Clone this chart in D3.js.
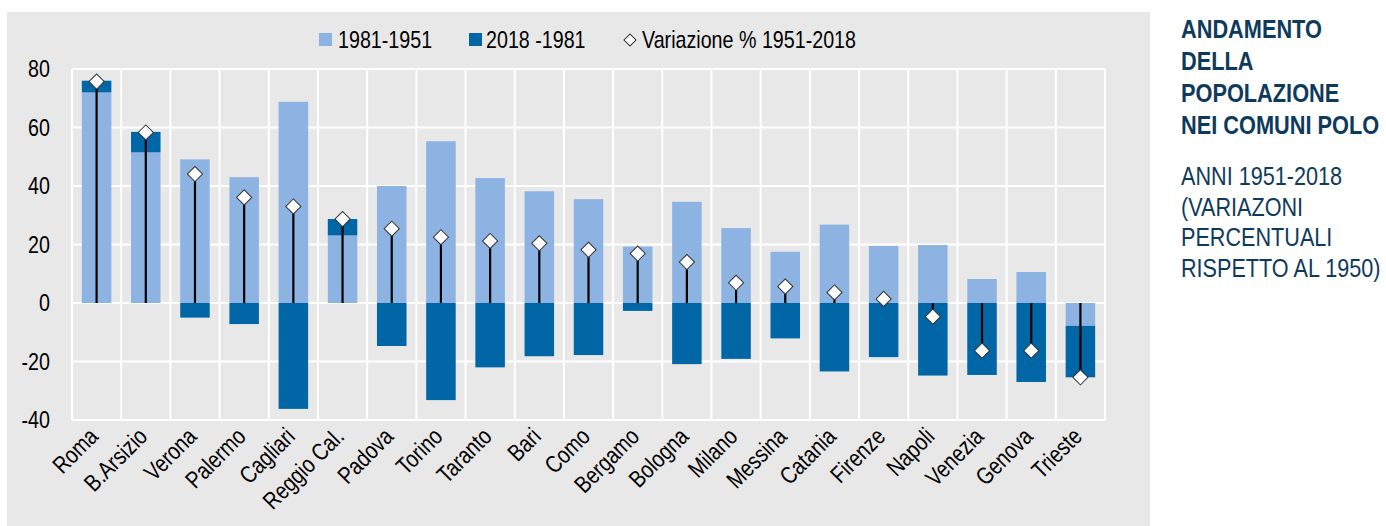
<!DOCTYPE html>
<html>
<head>
<meta charset="utf-8">
<script src="https://cdn.jsdelivr.net/npm/d3@7"></script>
<style>
  html, body { margin: 0; padding: 0; background: #ffffff; }
  svg { display: block; }
  text { font-family: "Liberation Sans Narrow", "Arial Narrow", "Liberation Sans", Arial, sans-serif; }
</style>
</head>
<body>
<svg id="chart" width="1386" height="526"></svg>
<script>
// Comuni polo, ordered by total change 1951-2018
const cities = ["Roma", "B.Arsizio", "Verona", "Palermo", "Cagliari", "Reggio Cal.", "Padova", "Torino",
  "Taranto", "Bari", "Como", "Bergamo", "Bologna", "Milano", "Messina", "Catania", "Firenze",
  "Napoli", "Venezia", "Genova", "Trieste"];

// Change 1951-1981 (%)
const change1951_1981 = [72, 51.5, 49.1, 43.0, 68.8, 23.1, 40.0, 55.3, 42.7, 38.2, 35.5, 19.3, 34.6, 25.6,
  17.5, 26.8, 19.5, 19.8, 8.2, 10.6, -7.8];

// Change 1981-2018 (%)
const change1981_2018 = [4.0, 7.0, -5.0, -7.2, -36.2, 5.6, -14.7, -33.2, -22.0, -18.2, -17.8, -2.7, -20.9,
  -19.1, -12.1, -23.4, -18.5, -24.8, -24.6, -27.0, -17.6];

// Overall change 1951-2018 (%)
const change1951_2018 = [75.7, 58.3, 44.1, 36.1, 33.0, 28.7, 25.4, 22.5, 21.2, 20.4, 18.2, 16.9, 14.0,
  6.9, 5.6, 3.6, 1.4, -4.7, -16.3, -16.3, -25.4];

const yTicks = [-40, -20, 0, 20, 40, 60, 80];

const legendLabels = ["1981-1951", "2018 -1981", "Variazione % 1951-2018"];
const titleLines = ["ANDAMENTO", "DELLA", "POPOLAZIONE", "NEI COMUNI POLO"];
const subtitleLines = ["ANNI 1951-2018", "(VARIAZONI", "PERCENTUALI", "RISPETTO AL 1950)"];

const colLight = "#8db3e2";
const colDark = "#0066a6";
const panelGrey = "#e8e8e8";
const navy = "#0e3a5c";
const narrow = 0.82; // horizontal squeeze for a condensed look

const svg = d3.select("#chart");

// grey panel behind the chart
svg.append("rect").attr("x", 7).attr("y", 12).attr("width", 1143).attr("height", 520).attr("fill", panelGrey);

const plot = { left: 72, right: 1105, top: 69, bottom: 420 };

const x = d3.scaleBand().domain(cities).range([plot.left, plot.right]).paddingInner(0).paddingOuter(0);
const y = d3.scaleLinear().domain([-40, 80]).range([plot.bottom, plot.top]);

// gridlines
const grid = svg.append("g");
grid.selectAll("line.h").data(yTicks).join("line")
  .attr("x1", plot.left).attr("x2", plot.right)
  .attr("y1", d => y(d)).attr("y2", d => y(d))
  .attr("stroke", "#ffffff").attr("stroke-width", 2);
const vEdges = cities.map(c => x(c)).concat([plot.right]);
grid.selectAll("line.v").data(vEdges).join("line")
  .attr("x1", d => d).attr("x2", d => d)
  .attr("y1", plot.top).attr("y2", plot.bottom)
  .attr("stroke", "#ffffff").attr("stroke-width", 2);

// stacked bars, positives above zero and negatives below
const rows = cities.map((c, i) => ({ city: c, a: change1951_1981[i], b: change1981_2018[i] }));
const stack = d3.stack().keys(["a", "b"]).offset(d3.stackOffsetDiverging);
const series = stack(rows);
const colors = { a: colLight, b: colDark };
const barW = x.bandwidth() * 0.6;

svg.append("g").selectAll("g").data(series).join("g")
  .attr("fill", d => colors[d.key])
  .selectAll("rect").data(d => d).join("rect")
  .attr("x", d => x(d.data.city) + (x.bandwidth() - barW) / 2)
  .attr("width", barW)
  .attr("y", d => y(Math.max(d[0], d[1])))
  .attr("height", d => Math.abs(y(d[0]) - y(d[1])));

// stems from zero to the overall change
const cx = c => x(c) + x.bandwidth() / 2;
svg.append("g").selectAll("line").data(cities).join("line")
  .attr("x1", c => cx(c)).attr("x2", c => cx(c))
  .attr("y1", y(0)).attr("y2", (c, i) => y(change1951_2018[i]))
  .attr("stroke", "#000000").attr("stroke-width", 2.2);

// diamond markers
const diamond = d3.symbol().type(d3.symbolSquare).size(115);
svg.append("g").selectAll("path").data(cities).join("path")
  .attr("d", diamond)
  .attr("transform", (c, i) => `translate(${cx(c)},${y(change1951_2018[i])}) rotate(45)`)
  .attr("fill", "#ffffff").attr("stroke", "#333333").attr("stroke-width", 1);

// y axis labels
svg.append("g").selectAll("text").data(yTicks).join("text")
  .attr("transform", d => `translate(50,${y(d)}) scale(${narrow},1)`)
  .attr("dy", "0.35em")
  .attr("text-anchor", "end").attr("font-size", 24).attr("fill", "#000")
  .text(d => d);

// category labels, rotated
svg.append("g").selectAll("text").data(cities).join("text")
  .attr("text-anchor", "end").attr("font-size", 24).attr("fill", "#000")
  .attr("transform", c => `translate(${cx(c) + 3},${438}) rotate(-45) scale(${narrow},1)`)
  .text(c => c);

// legend
const lg = svg.append("g");
const lgY = 40;
const lgText = (px, s) => lg.append("text")
  .attr("transform", `translate(${px},${lgY}) scale(${narrow},1)`)
  .attr("dy", "0.35em").attr("font-size", 24).attr("fill", "#000").text(s);
lg.append("rect").attr("x", 319).attr("y", lgY - 7).attr("width", 13).attr("height", 13).attr("fill", colLight);
lgText(338, legendLabels[0]);
lg.append("rect").attr("x", 469).attr("y", lgY - 7).attr("width", 13).attr("height", 13).attr("fill", colDark);
lgText(486, legendLabels[1]);
lg.append("path").attr("d", d3.symbol().type(d3.symbolSquare).size(72))
  .attr("transform", `translate(630,${lgY}) rotate(45)`)
  .attr("fill", "#fff").attr("stroke", "#333").attr("stroke-width", 1);
lgText(642, legendLabels[2]);

// side title
const side = svg.append("g").attr("fill", navy);
side.selectAll("text.t").data(titleLines).join("text")
  .attr("transform", (d, i) => `translate(1181,${38 + i * 32}) scale(0.87,1)`)
  .attr("font-size", 25).attr("font-weight", "bold").text(d => d);
side.selectAll("text.s").data(subtitleLines).join("text")
  .attr("transform", (d, i) => `translate(1181,${185 + i * 30.5}) scale(0.865,1)`)
  .attr("font-size", 25).text(d => d);
</script>
</body>
</html>
